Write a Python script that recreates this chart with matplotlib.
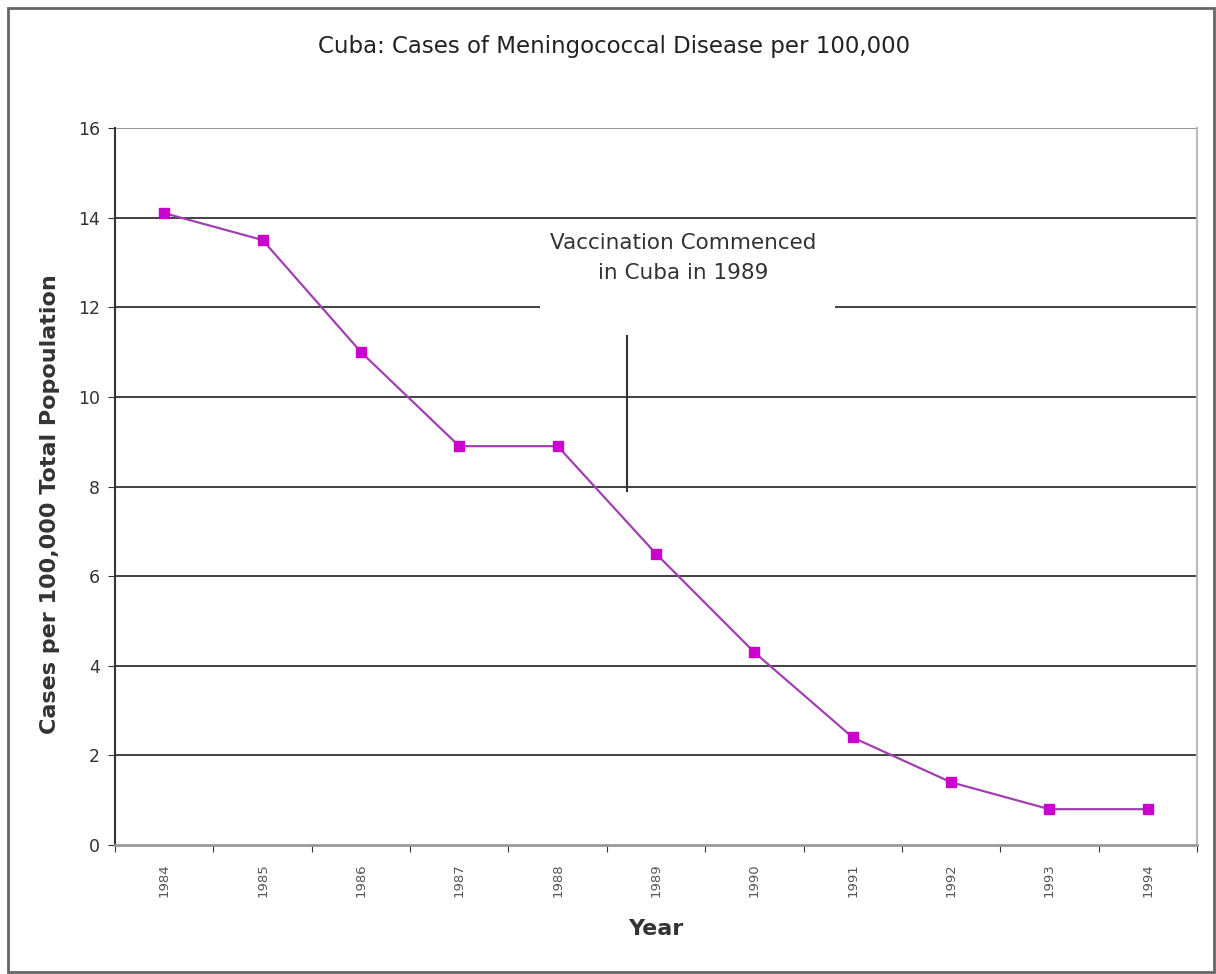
import matplotlib
matplotlib.use("Agg")
import matplotlib.pyplot as plt
from matplotlib.patches import Rectangle

years = ["1984", "1985", "1986", "1987", "1988", "1989", "1990", "1991", "1992", "1993", "1994"]
cases = [14.1, 13.5, 11.0, 8.9, 8.9, 6.5, 4.3, 2.4, 1.4, 0.8, 0.8]
y_ticks = [0, 2, 4, 6, 8, 10, 12, 14, 16]

plt.rcParams['font.family'] = ['DejaVu Sans']

fig = plt.figure(figsize=(12.16, 9.74), dpi=100)
ax = fig.add_axes([0.0946, 0.1324, 0.8898, 0.7362])

x = list(range(len(years)))
ax.set_xlim(-0.5, len(years) - 0.5)
ax.set_ylim(0, 16)

# gridlines
for t in y_ticks[1:-1]:
    ax.axhline(t, color='#333333', lw=1.3, zorder=1)
ax.axhline(16, color='#999999', lw=1.5, zorder=1)

ax.plot(x, cases, color='#A040B0', lw=1.6, marker='s', markersize=7,
        markerfacecolor='#CC00CC', markeredgecolor='#CC00CC', zorder=4)

# annotation
ax.text(5.28, 13.1, "Vaccination Commenced\nin Cuba in 1989", ha='center', va='center',
        fontsize=15.5, color='#333333', linespacing=1.65, zorder=3)
ax.add_patch(Rectangle((3.82, 11.6), 3.0, 2.2, facecolor='white', edgecolor='none', zorder=2))
ax.plot([4.7, 4.7], [7.9, 11.35], color='#333333', lw=1.5, zorder=3)

ax.set_yticks(y_ticks)
ax.set_yticklabels([str(t) for t in y_ticks], fontsize=12.5, color='#333333')
ax.set_xticks([i - 0.5 for i in range(len(years) + 1)])
ax.set_xticklabels([])
ax.set_xticks(x, minor=True)
ax.set_xticklabels(years, minor=True, rotation=90, fontsize=9.5, color='#555555')
ax.tick_params(axis='x', which='minor', length=0, pad=13)
ax.tick_params(axis='x', which='major', length=5, color='#333333')
ax.tick_params(axis='y', length=5, color='#333333', pad=6)

ax.spines['top'].set_visible(False)
ax.spines['right'].set_color('#BBBBBB')
ax.spines['right'].set_linewidth(1.5)
ax.spines['left'].set_color('#333333')
ax.spines['left'].set_linewidth(1.5)
ax.spines['bottom'].set_color('#999999')
ax.spines['bottom'].set_linewidth(2)

ax.set_ylabel("Cases per 100,000 Total Popoulation", fontsize=16, fontweight='bold',
              color='#333333')
ax.yaxis.set_label_coords(-0.051, 0.476)
ax.set_xlabel("Year", fontsize=16, fontweight='bold', color='#333333', labelpad=16)

fig.text(0.505, 0.952, "Cuba: Cases of Meningococcal Disease per 100,000", ha='center',
         va='center', fontsize=16.5, color='#222222')

fig.patches.append(Rectangle((8 / 1216, 2 / 974), 1206 / 1216, 964 / 974, transform=fig.transFigure,
                             fill=False, edgecolor='#666666', lw=2))

fig.savefig("out.png", dpi=100)
